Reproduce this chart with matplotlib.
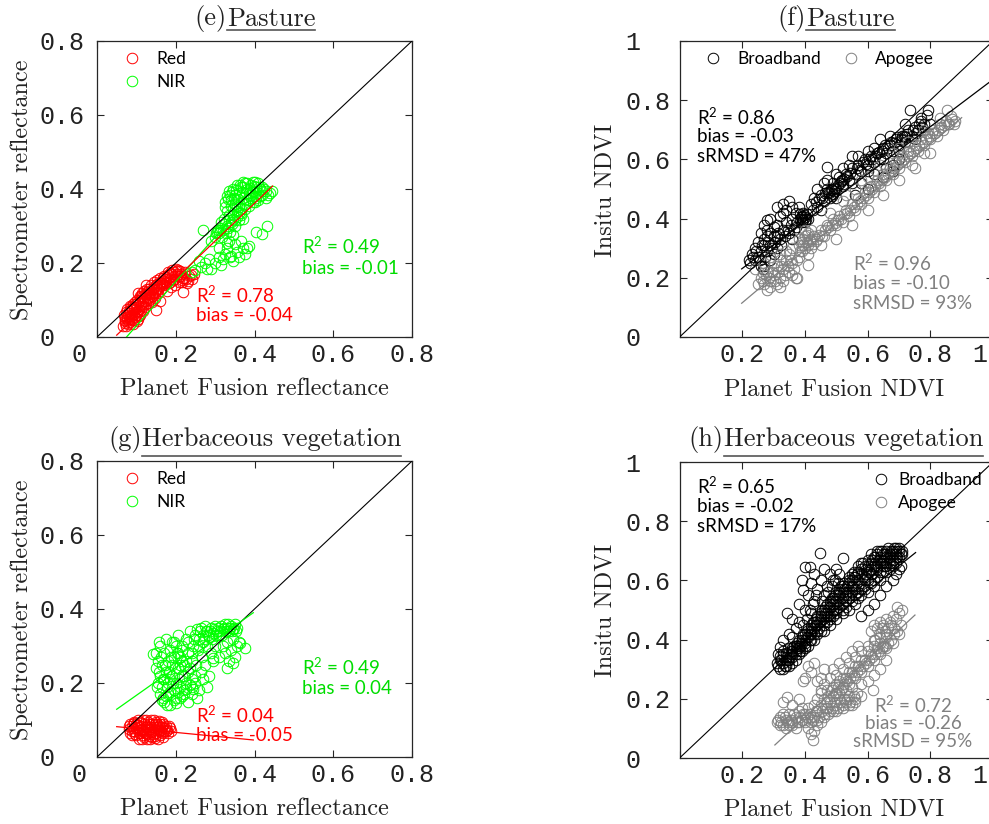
import matplotlib
matplotlib.use("Agg")
import matplotlib.pyplot as plt
from matplotlib.lines import Line2D

plt.rcParams["mathtext.fontset"] = "custom"
plt.rcParams["mathtext.rm"] = "Lato"
plt.rcParams["mathtext.it"] = "Lato:italic"
plt.rcParams["mathtext.bf"] = "Lato:bold"

# ---------------- data ----------------
# (e) Pasture: Planet Fusion vs spectrometer reflectance
pasture_red = [
    (0.066, 0.030), (0.070, 0.045), (0.072, 0.038), (0.075, 0.055), (0.078, 0.060),
    (0.080, 0.048), (0.082, 0.070), (0.085, 0.065), (0.088, 0.078), (0.090, 0.072),
    (0.068, 0.060), (0.073, 0.030), (0.077, 0.075), (0.081, 0.040), (0.084, 0.085),
    (0.087, 0.050), (0.091, 0.090), (0.094, 0.062), (0.097, 0.095), (0.100, 0.080),
    (0.092, 0.035), (0.095, 0.045), (0.099, 0.060), (0.102, 0.100), (0.105, 0.070),
    (0.108, 0.110), (0.111, 0.085), (0.114, 0.120), (0.117, 0.095), (0.120, 0.125),
    (0.103, 0.050), (0.107, 0.075), (0.110, 0.060), (0.113, 0.090), (0.116, 0.070),
    (0.119, 0.105), (0.122, 0.080), (0.125, 0.115), (0.128, 0.100), (0.131, 0.130),
    (0.124, 0.090), (0.128, 0.130), (0.132, 0.100), (0.136, 0.140), (0.140, 0.110),
    (0.144, 0.150), (0.148, 0.120), (0.152, 0.155), (0.156, 0.130), (0.160, 0.160),
    (0.135, 0.115), (0.139, 0.095), (0.143, 0.130), (0.147, 0.105), (0.151, 0.140),
    (0.155, 0.120), (0.159, 0.145), (0.163, 0.130), (0.167, 0.160), (0.171, 0.140),
    (0.165, 0.140), (0.170, 0.165), (0.175, 0.150), (0.180, 0.175), (0.185, 0.158),
    (0.190, 0.180), (0.195, 0.165), (0.200, 0.185), (0.205, 0.170), (0.210, 0.178),
    (0.178, 0.125), (0.183, 0.145), (0.188, 0.135), (0.193, 0.155), (0.198, 0.140),
    (0.203, 0.165), (0.208, 0.150), (0.213, 0.170), (0.218, 0.160), (0.223, 0.175),
    (0.215, 0.150), (0.222, 0.160), (0.228, 0.145), (0.234, 0.165), (0.240, 0.158),
    (0.246, 0.170), (0.104, 0.119), (0.150, 0.073), (0.218, 0.122), (0.125, 0.140),
    (0.160, 0.098),
    (0.070, 0.052), (0.074, 0.068), (0.079, 0.035), (0.083, 0.058), (0.086, 0.080),
    (0.089, 0.045), (0.093, 0.075), (0.096, 0.055), (0.099, 0.088), (0.101, 0.068),
    (0.104, 0.095), (0.106, 0.058), (0.109, 0.100), (0.112, 0.072), (0.115, 0.108),
    (0.118, 0.085), (0.121, 0.115), (0.123, 0.098), (0.126, 0.122), (0.129, 0.092),
    (0.133, 0.118), (0.137, 0.128), (0.141, 0.120), (0.145, 0.135), (0.149, 0.128),
    (0.153, 0.142), (0.157, 0.138), (0.161, 0.150), (0.164, 0.145), (0.168, 0.152),
    (0.172, 0.158), (0.176, 0.162), (0.181, 0.168), (0.186, 0.172), (0.191, 0.170),
    (0.196, 0.176), (0.201, 0.178), (0.206, 0.182), (0.212, 0.165), (0.217, 0.155),
    (0.225, 0.158), (0.232, 0.152), (0.238, 0.168), (0.186, 0.150), (0.195, 0.158),
    (0.174, 0.145), (0.132, 0.108), (0.142, 0.112), (0.112, 0.112), (0.094, 0.082),
    (0.077, 0.050), (0.072, 0.042), (0.090, 0.058), (0.101, 0.042),
]
pasture_nir = [
    (0.330, 0.380), (0.335, 0.395), (0.340, 0.370), (0.345, 0.400), (0.350, 0.385),
    (0.355, 0.410), (0.360, 0.390), (0.365, 0.405), (0.370, 0.375), (0.375, 0.415),
    (0.380, 0.400), (0.385, 0.390), (0.390, 0.410), (0.395, 0.395), (0.400, 0.420),
    (0.405, 0.405), (0.410, 0.390), (0.415, 0.400), (0.420, 0.385), (0.430, 0.395),
    (0.440, 0.390), (0.325, 0.350), (0.330, 0.340), (0.340, 0.355), (0.350, 0.360),
    (0.360, 0.350), (0.370, 0.360), (0.380, 0.370), (0.390, 0.375), (0.400, 0.380),
    (0.410, 0.370), (0.345, 0.330), (0.355, 0.340), (0.365, 0.335), (0.375, 0.345),
    (0.385, 0.355), (0.420, 0.405), (0.400, 0.365), (0.395, 0.420), (0.370, 0.420),
    (0.325, 0.365), (0.332, 0.372), (0.338, 0.385), (0.342, 0.392), (0.348, 0.375),
    (0.352, 0.398), (0.358, 0.372), (0.362, 0.412), (0.368, 0.392), (0.372, 0.405),
    (0.378, 0.388), (0.382, 0.415), (0.388, 0.402), (0.392, 0.385), (0.398, 0.408),
    (0.402, 0.392), (0.408, 0.415), (0.412, 0.405), (0.418, 0.395), (0.425, 0.400),
    (0.435, 0.385), (0.445, 0.395), (0.428, 0.375), (0.415, 0.380), (0.405, 0.375),
    (0.395, 0.365), (0.385, 0.370), (0.375, 0.360), (0.365, 0.345), (0.355, 0.355),
    (0.345, 0.345), (0.335, 0.330), (0.322, 0.320), (0.316, 0.310), (0.308, 0.290),
    (0.302, 0.280), (0.350, 0.315), (0.342, 0.305), (0.360, 0.335), (0.332, 0.295),
    (0.300, 0.270), (0.305, 0.285), (0.310, 0.280), (0.315, 0.295), (0.320, 0.290),
    (0.325, 0.305), (0.330, 0.300), (0.335, 0.315), (0.340, 0.310), (0.345, 0.320),
    (0.350, 0.300), (0.355, 0.325), (0.360, 0.315), (0.365, 0.330), (0.370, 0.320),
    (0.318, 0.270), (0.328, 0.280), (0.338, 0.285),
    (0.265, 0.190), (0.275, 0.200), (0.285, 0.210), (0.290, 0.185), (0.300, 0.200),
    (0.310, 0.215), (0.315, 0.195), (0.320, 0.210), (0.325, 0.225), (0.330, 0.240),
    (0.340, 0.220), (0.350, 0.250), (0.355, 0.230), (0.360, 0.215), (0.370, 0.240),
    (0.375, 0.225), (0.385, 0.245), (0.335, 0.260), (0.345, 0.275), (0.250, 0.180),
    (0.240, 0.175), (0.260, 0.205), (0.280, 0.185), (0.345, 0.205), (0.365, 0.260),
    (0.310, 0.240), (0.290, 0.260), (0.270, 0.290), (0.312, 0.290), (0.330, 0.253),
    (0.338, 0.217), (0.380, 0.240), (0.405, 0.283), (0.420, 0.278), (0.432, 0.300),
]

# (f) Pasture: Planet Fusion NDVI vs in-situ NDVI
pasture_broadband = [
    (0.220, 0.260), (0.240, 0.300), (0.250, 0.270), (0.260, 0.240), (0.270, 0.330),
    (0.270, 0.380), (0.280, 0.290), (0.280, 0.360), (0.290, 0.310), (0.290, 0.260),
    (0.300, 0.340), (0.300, 0.280), (0.310, 0.380), (0.310, 0.300), (0.320, 0.330),
    (0.320, 0.410), (0.330, 0.450), (0.330, 0.360), (0.340, 0.430), (0.340, 0.390),
    (0.350, 0.350), (0.350, 0.460), (0.360, 0.400), (0.360, 0.330), (0.370, 0.420),
    (0.370, 0.370), (0.380, 0.440), (0.230, 0.280), (0.250, 0.320), (0.260, 0.350),
    (0.265, 0.230), (0.278, 0.395),
    (0.225, 0.250), (0.235, 0.270), (0.245, 0.290), (0.255, 0.260), (0.262, 0.310),
    (0.272, 0.270), (0.283, 0.320), (0.295, 0.300), (0.305, 0.320), (0.315, 0.350),
    (0.325, 0.310), (0.335, 0.340), (0.345, 0.360), (0.355, 0.380), (0.365, 0.360),
    (0.375, 0.390), (0.280, 0.340), (0.300, 0.370), (0.290, 0.350), (0.310, 0.340),
    (0.260, 0.290), (0.270, 0.310), (0.360, 0.440), (0.330, 0.420), (0.310, 0.440),
    (0.290, 0.400), (0.240, 0.260), (0.270, 0.240),
    (0.385, 0.400), (0.390, 0.410), (0.395, 0.395), (0.400, 0.405), (0.395, 0.420),
    (0.405, 0.415), (0.390, 0.390), (0.400, 0.390), (0.385, 0.415), (0.410, 0.400),
    (0.388, 0.405), (0.402, 0.400), (0.392, 0.400), (0.398, 0.412),
    (0.478, 0.485), (0.485, 0.495), (0.490, 0.482), (0.482, 0.500), (0.492, 0.492),
    (0.487, 0.478), (0.512, 0.520), (0.518, 0.530), (0.522, 0.518), (0.515, 0.528),
    (0.420, 0.450), (0.430, 0.470), (0.440, 0.440), (0.450, 0.480), (0.460, 0.460),
    (0.470, 0.575), (0.470, 0.500), (0.480, 0.470), (0.490, 0.520), (0.500, 0.500),
    (0.510, 0.540), (0.520, 0.510), (0.530, 0.550), (0.540, 0.530), (0.550, 0.570),
    (0.560, 0.550), (0.570, 0.580), (0.580, 0.560), (0.590, 0.600), (0.600, 0.580),
    (0.610, 0.610), (0.620, 0.590), (0.630, 0.620), (0.640, 0.600), (0.650, 0.640),
    (0.660, 0.620), (0.670, 0.650), (0.680, 0.630), (0.690, 0.670), (0.700, 0.650),
    (0.710, 0.680), (0.720, 0.660), (0.730, 0.700), (0.740, 0.680), (0.750, 0.710),
    (0.760, 0.700), (0.770, 0.730), (0.780, 0.720), (0.790, 0.750), (0.800, 0.720),
    (0.735, 0.767), (0.793, 0.767), (0.550, 0.610), (0.580, 0.520), (0.620, 0.550),
    (0.660, 0.570), (0.680, 0.580), (0.700, 0.600), (0.600, 0.630), (0.640, 0.670),
    (0.705, 0.670), (0.715, 0.680), (0.720, 0.675), (0.710, 0.665), (0.725, 0.685),
    (0.560, 0.480), (0.600, 0.500), (0.650, 0.540), (0.680, 0.560),
    (0.425, 0.430), (0.435, 0.455), (0.445, 0.465), (0.455, 0.470), (0.465, 0.485),
    (0.475, 0.490), (0.495, 0.505), (0.505, 0.515), (0.525, 0.535), (0.535, 0.545),
    (0.545, 0.555), (0.565, 0.570), (0.575, 0.565), (0.585, 0.590), (0.595, 0.585),
    (0.605, 0.600), (0.615, 0.600), (0.625, 0.610), (0.635, 0.625), (0.645, 0.630),
    (0.655, 0.650), (0.665, 0.640), (0.675, 0.660), (0.685, 0.655), (0.695, 0.675),
    (0.745, 0.700), (0.755, 0.690), (0.765, 0.720), (0.775, 0.710), (0.500, 0.550),
    (0.540, 0.580), (0.440, 0.500), (0.460, 0.520),
    (0.450, 0.430), (0.500, 0.470), (0.550, 0.520), (0.600, 0.560), (0.650, 0.600),
    (0.700, 0.630), (0.750, 0.670), (0.470, 0.530), (0.520, 0.570), (0.570, 0.610),
    (0.620, 0.640), (0.670, 0.680), (0.720, 0.720), (0.770, 0.740),
]
pasture_apogee = [
    (0.260, 0.200), (0.270, 0.180), (0.280, 0.220), (0.290, 0.190), (0.300, 0.210),
    (0.310, 0.240), (0.320, 0.200), (0.330, 0.230), (0.340, 0.260), (0.350, 0.220),
    (0.360, 0.250), (0.370, 0.200), (0.380, 0.270), (0.270, 0.250), (0.290, 0.270),
    (0.310, 0.180), (0.330, 0.190), (0.350, 0.280), (0.280, 0.160), (0.320, 0.280),
    (0.267, 0.215), (0.240, 0.230), (0.250, 0.180),
    (0.265, 0.190), (0.275, 0.210), (0.285, 0.200), (0.295, 0.220), (0.305, 0.190),
    (0.315, 0.220), (0.325, 0.240), (0.335, 0.210), (0.345, 0.240), (0.355, 0.260),
    (0.365, 0.230), (0.375, 0.260), (0.385, 0.290), (0.300, 0.250), (0.320, 0.260),
    (0.340, 0.290), (0.360, 0.300), (0.380, 0.330), (0.360, 0.210), (0.320, 0.170),
    (0.290, 0.170),
    (0.390, 0.320), (0.400, 0.340), (0.410, 0.310), (0.400, 0.300), (0.410, 0.350),
    (0.420, 0.330), (0.390, 0.290), (0.420, 0.300), (0.400, 0.360), (0.430, 0.340),
    (0.410, 0.280), (0.380, 0.310), (0.395, 0.330), (0.405, 0.320), (0.395, 0.310),
    (0.405, 0.345), (0.415, 0.325), (0.425, 0.315), (0.435, 0.325), (0.445, 0.345),
    (0.420, 0.360), (0.450, 0.310),
    (0.374, 0.198), (0.410, 0.243), (0.852, 0.767),
    (0.440, 0.330), (0.450, 0.360), (0.460, 0.340), (0.470, 0.380), (0.480, 0.360),
    (0.490, 0.400), (0.500, 0.380), (0.510, 0.410), (0.520, 0.390), (0.530, 0.430),
    (0.540, 0.410), (0.550, 0.450), (0.560, 0.430), (0.570, 0.470), (0.580, 0.450),
    (0.590, 0.490), (0.600, 0.470), (0.610, 0.510), (0.620, 0.490), (0.630, 0.530),
    (0.640, 0.510), (0.650, 0.550), (0.660, 0.530), (0.670, 0.570), (0.680, 0.550),
    (0.690, 0.590), (0.700, 0.570), (0.710, 0.610), (0.720, 0.590), (0.730, 0.630),
    (0.740, 0.610), (0.750, 0.650), (0.760, 0.630), (0.770, 0.670), (0.780, 0.650),
    (0.790, 0.690), (0.800, 0.670), (0.810, 0.700), (0.820, 0.680), (0.830, 0.720),
    (0.840, 0.700), (0.850, 0.730), (0.860, 0.720), (0.870, 0.735), (0.880, 0.730),
    (0.875, 0.720), (0.865, 0.745), (0.480, 0.420), (0.520, 0.460), (0.560, 0.500),
    (0.600, 0.540), (0.640, 0.580), (0.700, 0.640), (0.740, 0.580), (0.780, 0.620),
    (0.455, 0.340), (0.465, 0.360), (0.475, 0.370), (0.485, 0.380), (0.495, 0.385),
    (0.505, 0.395), (0.515, 0.400), (0.525, 0.415), (0.535, 0.420), (0.545, 0.430),
    (0.555, 0.440), (0.565, 0.450), (0.575, 0.460), (0.585, 0.470), (0.595, 0.480),
    (0.605, 0.490), (0.615, 0.500), (0.625, 0.510), (0.635, 0.520), (0.645, 0.530),
    (0.655, 0.540), (0.665, 0.550), (0.675, 0.560), (0.685, 0.570), (0.695, 0.580),
    (0.705, 0.590), (0.715, 0.600), (0.725, 0.610), (0.735, 0.620), (0.745, 0.630),
    (0.755, 0.640), (0.765, 0.650), (0.775, 0.660), (0.785, 0.670), (0.795, 0.680),
    (0.805, 0.690), (0.815, 0.690), (0.825, 0.700), (0.835, 0.710), (0.845, 0.715),
    (0.855, 0.720),
    (0.500, 0.330), (0.550, 0.380), (0.600, 0.430), (0.650, 0.480), (0.700, 0.530),
    (0.750, 0.570), (0.800, 0.620), (0.530, 0.480), (0.580, 0.530), (0.630, 0.560),
    (0.680, 0.620), (0.730, 0.660), (0.780, 0.700), (0.830, 0.740),
]

# (g) Herbaceous vegetation: reflectance
herb_red = [
    (0.080, 0.075), (0.085, 0.065), (0.090, 0.085), (0.095, 0.070), (0.100, 0.090),
    (0.100, 0.060), (0.105, 0.080), (0.110, 0.095), (0.110, 0.065), (0.115, 0.075),
    (0.120, 0.090), (0.120, 0.055), (0.125, 0.080), (0.130, 0.095), (0.130, 0.065),
    (0.135, 0.075), (0.140, 0.090), (0.140, 0.055), (0.145, 0.080), (0.150, 0.095),
    (0.150, 0.065), (0.155, 0.075), (0.160, 0.090), (0.160, 0.060), (0.165, 0.080),
    (0.170, 0.070), (0.175, 0.085), (0.180, 0.065), (0.185, 0.078), (0.090, 0.060),
    (0.095, 0.095), (0.105, 0.100), (0.115, 0.050), (0.125, 0.100), (0.135, 0.050),
    (0.145, 0.100), (0.155, 0.050), (0.165, 0.095), (0.175, 0.070), (0.082, 0.085),
    (0.118, 0.070), (0.128, 0.085), (0.138, 0.068), (0.148, 0.088), (0.158, 0.070),
    (0.168, 0.065), (0.112, 0.085), (0.142, 0.062), (0.098, 0.078), (0.108, 0.072),
    (0.132, 0.058), (0.152, 0.082), (0.122, 0.066), (0.162, 0.074),
    (0.085, 0.090), (0.088, 0.070), (0.092, 0.078), (0.097, 0.062), (0.103, 0.086),
    (0.107, 0.066), (0.113, 0.092), (0.117, 0.060), (0.123, 0.075), (0.127, 0.062),
    (0.133, 0.088), (0.137, 0.080), (0.143, 0.070), (0.147, 0.058), (0.153, 0.090),
    (0.157, 0.085), (0.163, 0.068), (0.167, 0.088), (0.172, 0.078), (0.178, 0.072),
    (0.182, 0.085), (0.107, 0.050), (0.127, 0.048), (0.147, 0.052), (0.167, 0.055),
    (0.117, 0.100), (0.137, 0.100), (0.157, 0.098), (0.093, 0.092), (0.188, 0.070),
]
herb_nir = [
    (0.150, 0.280), (0.150, 0.240), (0.155, 0.200), (0.155, 0.260), (0.160, 0.170),
    (0.160, 0.220), (0.160, 0.300), (0.165, 0.190), (0.165, 0.250), (0.170, 0.150),
    (0.170, 0.210), (0.170, 0.280), (0.175, 0.230), (0.175, 0.320), (0.180, 0.170),
    (0.180, 0.260), (0.180, 0.200), (0.185, 0.290), (0.185, 0.140), (0.190, 0.220),
    (0.190, 0.250), (0.190, 0.310), (0.195, 0.180), (0.195, 0.270), (0.200, 0.200),
    (0.200, 0.160), (0.200, 0.300), (0.205, 0.240), (0.205, 0.330), (0.210, 0.270),
    (0.210, 0.190), (0.215, 0.220), (0.215, 0.300), (0.220, 0.250), (0.220, 0.170),
    (0.225, 0.320), (0.225, 0.200), (0.230, 0.280), (0.230, 0.230), (0.235, 0.340),
    (0.240, 0.260), (0.240, 0.190), (0.245, 0.300), (0.250, 0.330), (0.250, 0.220),
    (0.143, 0.278), (0.158, 0.310), (0.168, 0.160), (0.178, 0.140), (0.200, 0.145),
    (0.152, 0.190), (0.157, 0.230), (0.162, 0.270), (0.167, 0.210), (0.172, 0.250),
    (0.177, 0.190), (0.182, 0.230), (0.187, 0.270), (0.192, 0.200), (0.197, 0.240),
    (0.202, 0.280), (0.207, 0.210), (0.212, 0.250), (0.217, 0.290), (0.222, 0.220),
    (0.227, 0.260), (0.232, 0.310), (0.237, 0.240), (0.242, 0.280), (0.247, 0.320),
    (0.252, 0.250), (0.257, 0.290), (0.262, 0.340), (0.267, 0.270), (0.272, 0.320),
    (0.165, 0.155), (0.175, 0.165), (0.185, 0.175), (0.195, 0.155), (0.205, 0.175),
    (0.215, 0.165), (0.225, 0.185), (0.235, 0.195), (0.245, 0.185), (0.185, 0.210),
    (0.195, 0.310), (0.205, 0.280), (0.215, 0.260),
    (0.255, 0.345), (0.260, 0.320), (0.265, 0.350), (0.270, 0.330), (0.275, 0.355),
    (0.280, 0.340), (0.285, 0.325), (0.290, 0.350), (0.295, 0.335), (0.300, 0.355),
    (0.305, 0.340), (0.310, 0.330), (0.315, 0.355), (0.320, 0.345), (0.325, 0.360),
    (0.330, 0.350), (0.335, 0.340), (0.340, 0.355), (0.345, 0.345), (0.350, 0.360),
    (0.355, 0.350), (0.270, 0.310), (0.280, 0.300), (0.260, 0.300),
    (0.277, 0.340), (0.282, 0.330), (0.287, 0.340), (0.292, 0.320), (0.297, 0.345),
    (0.302, 0.330), (0.307, 0.350), (0.312, 0.340), (0.317, 0.330), (0.322, 0.350),
    (0.327, 0.340), (0.332, 0.360), (0.337, 0.350), (0.342, 0.340), (0.347, 0.350),
    (0.352, 0.340),
    (0.290, 0.280), (0.295, 0.260), (0.300, 0.300), (0.310, 0.270), (0.320, 0.300),
    (0.325, 0.280), (0.330, 0.310), (0.335, 0.260), (0.340, 0.290), (0.345, 0.320),
    (0.350, 0.270), (0.355, 0.300), (0.360, 0.310), (0.363, 0.307), (0.376, 0.294),
    (0.295, 0.267), (0.330, 0.240), (0.345, 0.255),
    (0.210, 0.160), (0.220, 0.180), (0.230, 0.150), (0.240, 0.170), (0.250, 0.200),
    (0.260, 0.180), (0.270, 0.210), (0.280, 0.190), (0.255, 0.160), (0.265, 0.230),
    (0.275, 0.250), (0.285, 0.220), (0.240, 0.210),
]

# (h) Herbaceous vegetation: NDVI
herb_broadband = [
    (0.310, 0.320), (0.315, 0.350), (0.320, 0.300), (0.325, 0.330), (0.330, 0.360),
    (0.335, 0.310), (0.340, 0.340), (0.345, 0.370), (0.350, 0.330), (0.355, 0.360),
    (0.360, 0.340), (0.365, 0.380), (0.370, 0.350), (0.375, 0.370), (0.380, 0.400),
    (0.385, 0.360), (0.390, 0.390), (0.395, 0.420), (0.400, 0.380), (0.405, 0.410),
    (0.410, 0.440), (0.415, 0.400), (0.420, 0.430), (0.425, 0.460), (0.430, 0.420),
    (0.435, 0.450), (0.440, 0.480), (0.445, 0.440), (0.450, 0.470), (0.455, 0.500),
    (0.460, 0.460), (0.465, 0.490), (0.470, 0.520), (0.475, 0.480), (0.480, 0.510),
    (0.485, 0.540), (0.490, 0.500), (0.495, 0.530), (0.500, 0.560), (0.505, 0.520),
    (0.510, 0.550), (0.515, 0.580), (0.520, 0.540), (0.525, 0.570), (0.530, 0.530),
    (0.535, 0.560), (0.540, 0.590), (0.545, 0.550), (0.550, 0.580), (0.555, 0.610),
    (0.560, 0.570), (0.565, 0.600), (0.570, 0.560), (0.575, 0.590), (0.580, 0.620),
    (0.585, 0.580), (0.590, 0.610), (0.595, 0.640), (0.600, 0.600), (0.605, 0.630),
    (0.610, 0.660), (0.615, 0.620), (0.620, 0.650), (0.625, 0.680), (0.630, 0.640),
    (0.635, 0.670), (0.640, 0.700), (0.645, 0.660), (0.650, 0.690), (0.655, 0.650),
    (0.660, 0.680), (0.665, 0.710), (0.670, 0.670), (0.675, 0.700), (0.680, 0.690),
    (0.685, 0.710), (0.690, 0.700), (0.695, 0.680), (0.700, 0.710), (0.705, 0.690),
    (0.710, 0.700), (0.620, 0.580), (0.600, 0.560), (0.580, 0.550), (0.640, 0.600),
    (0.660, 0.630), (0.680, 0.650), (0.560, 0.520), (0.540, 0.500), (0.520, 0.490),
    (0.500, 0.470), (0.480, 0.450),
    (0.315, 0.310), (0.320, 0.345), (0.330, 0.320), (0.340, 0.355), (0.345, 0.330),
    (0.355, 0.350), (0.360, 0.370), (0.370, 0.360), (0.375, 0.390), (0.385, 0.380),
    (0.390, 0.410), (0.400, 0.400), (0.405, 0.430), (0.415, 0.420), (0.420, 0.450),
    (0.430, 0.440), (0.435, 0.470), (0.445, 0.460), (0.450, 0.490), (0.460, 0.480),
    (0.465, 0.510), (0.475, 0.500), (0.480, 0.530), (0.490, 0.520), (0.495, 0.550),
    (0.505, 0.540), (0.510, 0.570), (0.520, 0.560), (0.525, 0.590), (0.535, 0.580),
    (0.540, 0.610), (0.550, 0.600), (0.555, 0.630), (0.565, 0.620), (0.570, 0.650),
    (0.580, 0.640), (0.585, 0.660), (0.595, 0.620), (0.600, 0.650), (0.610, 0.640),
    (0.615, 0.670), (0.625, 0.660), (0.630, 0.690), (0.640, 0.680), (0.645, 0.700),
    (0.655, 0.690), (0.660, 0.700), (0.670, 0.690), (0.680, 0.700), (0.690, 0.690),
    (0.700, 0.680), (0.710, 0.690), (0.550, 0.530), (0.570, 0.540), (0.590, 0.570),
    (0.610, 0.590), (0.630, 0.610), (0.650, 0.630), (0.670, 0.640), (0.690, 0.660),
    (0.705, 0.650), (0.500, 0.500), (0.520, 0.520), (0.460, 0.430), (0.440, 0.420),
    (0.420, 0.400), (0.400, 0.370), (0.380, 0.350), (0.360, 0.320), (0.340, 0.310),
    (0.480, 0.480), (0.530, 0.510), (0.395, 0.450), (0.405, 0.470), (0.415, 0.500),
    (0.425, 0.520), (0.435, 0.550), (0.455, 0.530), (0.475, 0.560), (0.485, 0.580),
    (0.495, 0.600), (0.505, 0.590),
    (0.320, 0.330), (0.330, 0.350), (0.350, 0.340), (0.360, 0.360), (0.370, 0.380),
    (0.380, 0.370), (0.390, 0.400), (0.400, 0.420), (0.410, 0.410), (0.420, 0.440),
    (0.430, 0.460), (0.440, 0.450), (0.450, 0.480), (0.460, 0.500), (0.470, 0.490),
    (0.480, 0.520), (0.490, 0.540), (0.500, 0.530), (0.510, 0.560), (0.520, 0.580),
    (0.530, 0.570), (0.540, 0.600), (0.550, 0.620), (0.560, 0.610), (0.570, 0.630),
    (0.580, 0.660), (0.590, 0.650), (0.600, 0.670), (0.610, 0.690), (0.620, 0.680),
    (0.630, 0.700), (0.640, 0.660), (0.650, 0.670), (0.660, 0.660), (0.670, 0.680),
    (0.680, 0.670), (0.690, 0.710), (0.700, 0.700), (0.620, 0.600), (0.640, 0.630),
    (0.660, 0.650), (0.680, 0.660), (0.580, 0.570), (0.560, 0.550), (0.540, 0.540),
    (0.520, 0.500), (0.500, 0.490), (0.480, 0.470), (0.460, 0.450), (0.440, 0.430),
    (0.420, 0.420), (0.400, 0.390), (0.380, 0.380), (0.360, 0.350), (0.340, 0.330),
    (0.330, 0.300), (0.350, 0.310), (0.370, 0.330), (0.390, 0.360), (0.410, 0.380),
    (0.430, 0.400), (0.450, 0.430), (0.470, 0.460), (0.490, 0.480), (0.510, 0.510),
    (0.530, 0.550), (0.550, 0.560), (0.570, 0.580), (0.590, 0.600), (0.610, 0.620),
    (0.630, 0.650), (0.650, 0.650), (0.670, 0.660), (0.690, 0.680),
    (0.448, 0.691), (0.522, 0.675), (0.400, 0.646), (0.416, 0.646), (0.395, 0.568),
    (0.342, 0.489), (0.320, 0.376), (0.370, 0.440), (0.360, 0.470), (0.350, 0.420),
    (0.380, 0.520), (0.390, 0.600), (0.410, 0.550), (0.420, 0.590), (0.430, 0.620),
    (0.440, 0.570), (0.450, 0.600), (0.460, 0.640), (0.470, 0.580), (0.480, 0.620),
    (0.490, 0.600), (0.500, 0.640), (0.510, 0.620), (0.330, 0.400), (0.360, 0.410),
    (0.400, 0.500), (0.430, 0.530), (0.460, 0.550), (0.380, 0.460), (0.420, 0.490),
    (0.600, 0.500), (0.620, 0.520), (0.640, 0.550), (0.580, 0.480), (0.660, 0.580),
    (0.680, 0.600), (0.700, 0.640), (0.690, 0.620),
]
herb_apogee = [
    (0.310, 0.120), (0.320, 0.140), (0.330, 0.110), (0.340, 0.130), (0.350, 0.150),
    (0.360, 0.120), (0.370, 0.140), (0.380, 0.160), (0.390, 0.130), (0.400, 0.150),
    (0.410, 0.170), (0.420, 0.120), (0.430, 0.140), (0.440, 0.160), (0.450, 0.180),
    (0.460, 0.150), (0.470, 0.170), (0.480, 0.190), (0.490, 0.160), (0.500, 0.180),
    (0.510, 0.200), (0.520, 0.170), (0.530, 0.190), (0.540, 0.210), (0.550, 0.180),
    (0.560, 0.200), (0.330, 0.150), (0.350, 0.110), (0.370, 0.100), (0.390, 0.170),
    (0.410, 0.100), (0.430, 0.090), (0.450, 0.120), (0.440, 0.110), (0.427, 0.061),
    (0.420, 0.080), (0.360, 0.180), (0.380, 0.200), (0.400, 0.120), (0.342, 0.207),
    (0.330, 0.190),
    (0.315, 0.130), (0.325, 0.120), (0.335, 0.140), (0.345, 0.120), (0.355, 0.130),
    (0.365, 0.150), (0.375, 0.120), (0.385, 0.140), (0.395, 0.150), (0.405, 0.140),
    (0.415, 0.150), (0.425, 0.130), (0.435, 0.160), (0.445, 0.140), (0.455, 0.160),
    (0.465, 0.170), (0.475, 0.150), (0.485, 0.170), (0.495, 0.190), (0.505, 0.170),
    (0.515, 0.190), (0.525, 0.200), (0.535, 0.200), (0.545, 0.190), (0.555, 0.210),
    (0.565, 0.220), (0.460, 0.200), (0.450, 0.230), (0.440, 0.200), (0.430, 0.180),
    (0.320, 0.110), (0.340, 0.100), (0.360, 0.110), (0.380, 0.120), (0.400, 0.130),
    (0.420, 0.140), (0.440, 0.130), (0.460, 0.140), (0.480, 0.160), (0.500, 0.160),
    (0.520, 0.180), (0.540, 0.180), (0.560, 0.190), (0.580, 0.210), (0.470, 0.190),
    (0.490, 0.210), (0.510, 0.220), (0.530, 0.230), (0.550, 0.240),
    (0.450, 0.220), (0.460, 0.250), (0.470, 0.230), (0.480, 0.270), (0.490, 0.240),
    (0.500, 0.280), (0.510, 0.260), (0.520, 0.300), (0.530, 0.270), (0.540, 0.320),
    (0.550, 0.290), (0.560, 0.340), (0.570, 0.310), (0.580, 0.360), (0.590, 0.330),
    (0.600, 0.380), (0.610, 0.350), (0.620, 0.400), (0.630, 0.370), (0.640, 0.410),
    (0.650, 0.380), (0.660, 0.420), (0.550, 0.360), (0.570, 0.380), (0.530, 0.340),
    (0.510, 0.320), (0.490, 0.300), (0.618, 0.230), (0.620, 0.280), (0.640, 0.300),
    (0.600, 0.260), (0.580, 0.250), (0.660, 0.330),
    (0.500, 0.220), (0.520, 0.240), (0.540, 0.250), (0.560, 0.270), (0.580, 0.290),
    (0.600, 0.310), (0.620, 0.330), (0.640, 0.350), (0.660, 0.370), (0.680, 0.390),
    (0.700, 0.420), (0.600, 0.360), (0.620, 0.380), (0.640, 0.390), (0.660, 0.410),
    (0.580, 0.330), (0.560, 0.310), (0.540, 0.290), (0.520, 0.270), (0.500, 0.250),
    (0.475, 0.210), (0.485, 0.230), (0.495, 0.220), (0.505, 0.240), (0.515, 0.230),
    (0.525, 0.250), (0.535, 0.260), (0.545, 0.270), (0.555, 0.280), (0.565, 0.290),
    (0.575, 0.300), (0.585, 0.310), (0.595, 0.320), (0.605, 0.330), (0.615, 0.340),
    (0.625, 0.350), (0.635, 0.360), (0.645, 0.370), (0.655, 0.380), (0.665, 0.390),
    (0.675, 0.400), (0.685, 0.420), (0.695, 0.430), (0.705, 0.450), (0.635, 0.420),
    (0.645, 0.440), (0.655, 0.430), (0.675, 0.450), (0.685, 0.440), (0.625, 0.400),
    (0.610, 0.430), (0.620, 0.450), (0.630, 0.440), (0.640, 0.460), (0.650, 0.450),
    (0.660, 0.470), (0.670, 0.460), (0.680, 0.480), (0.690, 0.470), (0.700, 0.490),
    (0.710, 0.500), (0.665, 0.440), (0.695, 0.510),
    (0.400, 0.270), (0.420, 0.290), (0.440, 0.260), (0.460, 0.300), (0.410, 0.310),
    (0.430, 0.320), (0.395, 0.260), (0.450, 0.270),
]

# regression line end points (x0, x1), (y0, y1)
fit_pasture_red = ([0.050, 0.446], [0.005, 0.408])
fit_pasture_nir = ([0.075, 0.330], [0.000, 0.306])
fit_pasture_broadband = ([0.198, 0.990], [0.230, 0.862])
fit_pasture_apogee = ([0.198, 0.900], [0.114, 0.741])
fit_herb_red = ([0.050, 0.397], [0.082, 0.046])
fit_herb_nir = ([0.050, 0.397], [0.129, 0.390])
fit_herb_broadband = ([0.310, 0.753], [0.320, 0.694])
fit_herb_apogee = ([0.304, 0.751], [0.044, 0.483])

# statistics printed on each panel
stats_pasture_red = ("0.78", "-0.04")
stats_pasture_nir = ("0.49", "-0.01")
stats_herb_red = ("0.04", "-0.05")
stats_herb_nir = ("0.49", "0.04")
stats_pasture_broadband = ("0.86", "-0.03", "47%")
stats_pasture_apogee = ("0.96", "-0.10", "93%")
stats_herb_broadband = ("0.65", "-0.02", "17%")
stats_herb_apogee = ("0.72", "-0.26", "95%")

refl_ticks = [0, 0.2, 0.4, 0.6, 0.8]
refl_labels = ["0", "0.2", "0.4", "0.6", "0.8"]
ndvi_ticks = [0, 0.2, 0.4, 0.6, 0.8, 1.0]
ndvi_labels = ["0", "0.2", "0.4", "0.6", "0.8", "1"]

# ---------------- style ----------------
W, H = 989, 824
DPI = 100
RED = "#ff0000"
GREEN = "#00ff00"
GREEN_TXT = "#00dd00"
GRAY = "#808080"
AXC = "#262626"
TICK_FONT = "Liberation Mono"
TICK_SIZE = 18
SERIF = "cmr10"
SANS = "Lato"
ANN_SIZE = 13.5

fig = plt.figure(figsize=(W / DPI, H / DPI), dpi=DPI)


def px_axes(left, top, right, bottom):
    return fig.add_axes([left / W, 1 - bottom / H, (right - left) / W, (bottom - top) / H])


ax_e = px_axes(97, 41, 412, 337)
ax_f = px_axes(679.6, 41, 993, 337)
ax_g = px_axes(97, 461, 412, 757)
ax_h = px_axes(679.6, 462, 993, 758)

MS = 7.6
MEW = 0.7


def scatter(ax, pts, color, label):
    xs = [p[0] for p in pts]
    ys = [p[1] for p in pts]
    ln, = ax.plot(xs, ys, "o", ls="none", mfc="none", mec=color, ms=MS, mew=MEW,
                  label=label, zorder=2)
    return ln


def frame(ax, lim, ticks, labels, ylabel_pad_px):
    ax.set_xlim(0, lim)
    ax.set_ylim(0, lim)
    ax.plot([0, lim], [0, lim], color="black", lw=0.8, zorder=4)
    ax.set_xticks(ticks)
    ax.set_yticks(ticks)
    # the corner labels of the x axis are drawn separately
    xl = [""] + labels[1:]
    if lim == 1.0:
        xl[-1] = ""
    ax.set_xticklabels(xl)
    ax.set_yticklabels(labels, ha="left")
    ax.tick_params(direction="in", length=5, width=0.8, top=True, right=True,
                   colors=AXC, labelcolor="#222222", labelsize=TICK_SIZE)
    ax.tick_params(axis="y", pad=ylabel_pad_px * 0.72)
    ax.tick_params(axis="x", pad=4)
    for lab in ax.get_xticklabels() + ax.get_yticklabels():
        lab.set_fontfamily(TICK_FONT)
    for sp in ax.spines.values():
        sp.set_color(AXC)
        sp.set_linewidth(0.9)


def corner_label(ax, text, xfrac, dx_px):
    ax.annotate(text, xy=(xfrac, 0), xycoords="axes fraction", xytext=(dx_px * 0.72, -4),
                textcoords="offset points", ha="center", va="top", fontsize=TICK_SIZE,
                fontfamily=TICK_FONT, color="#222222")


def fit_line(ax, fit, color):
    ax.plot(fit[0], fit[1], color=color, lw=0.9, zorder=5)


def sans_text(ax, x, y, s, color, ha="left"):
    ax.text(x, y, s, transform=ax.transAxes, color=color, ha=ha, va="center",
            fontsize=ANN_SIZE, fontfamily=SANS, zorder=6)


def r2(v):
    return r"R$^{\mathrm{2}}$ = " + v


LEG_FONT = {"family": SANS, "size": 12.5}

# ---- (e) ----
frame(ax_e, 0.8, refl_ticks, refl_labels, 58)
l_red = scatter(ax_e, pasture_red, RED, "Red")
l_nir = scatter(ax_e, pasture_nir, GREEN, "NIR")
fit_line(ax_e, fit_pasture_nir, GREEN)
fit_line(ax_e, fit_pasture_red, RED)
sans_text(ax_e, 0.65, 0.307, r2(stats_pasture_nir[0]), GREEN_TXT)
sans_text(ax_e, 0.65, 0.233, f"bias = {stats_pasture_nir[1]}", GREEN_TXT)
sans_text(ax_e, 0.314, 0.142, r2(stats_pasture_red[0]), RED)
sans_text(ax_e, 0.314, 0.074, f"bias = {stats_pasture_red[1]}", RED)
ax_e.legend(handles=[l_red, l_nir], loc="upper left", bbox_to_anchor=(0.084, 0.965),
            frameon=False, borderpad=0, borderaxespad=0, handlelength=1.0,
            handletextpad=0.9, labelspacing=0.4, prop=LEG_FONT)
corner_label(ax_e, "0", 0, -18)

# ---- (g) ----
frame(ax_g, 0.8, refl_ticks, refl_labels, 58)
l_red = scatter(ax_g, herb_red, RED, "Red")
l_nir = scatter(ax_g, herb_nir, GREEN, "NIR")
fit_line(ax_g, fit_herb_nir, GREEN)
fit_line(ax_g, fit_herb_red, RED)
sans_text(ax_g, 0.65, 0.304, r2(stats_herb_nir[0]), GREEN_TXT)
sans_text(ax_g, 0.65, 0.230, f"bias = {stats_herb_nir[1]}", GREEN_TXT)
sans_text(ax_g, 0.314, 0.142, r2(stats_herb_red[0]), RED)
sans_text(ax_g, 0.314, 0.074, f"bias = {stats_herb_red[1]}", RED)
ax_g.legend(handles=[l_red, l_nir], loc="upper left", bbox_to_anchor=(0.084, 0.965),
            frameon=False, borderpad=0, borderaxespad=0, handlelength=1.0,
            handletextpad=0.9, labelspacing=0.4, prop=LEG_FONT)
corner_label(ax_g, "0", 0, -18)

# ---- (f) ----
frame(ax_f, 1.0, ndvi_ticks, ndvi_labels, 54)
l_bb = scatter(ax_f, pasture_broadband, "black", "Broadband")
l_ap = scatter(ax_f, pasture_apogee, GRAY, "Apogee")
fit_line(ax_f, fit_pasture_broadband, "black")
fit_line(ax_f, fit_pasture_apogee, GRAY)
sans_text(ax_f, 0.0545, 0.744, r2(stats_pasture_broadband[0]), "black")
sans_text(ax_f, 0.0545, 0.677, f"bias = {stats_pasture_broadband[1]}", "black")
sans_text(ax_f, 0.0545, 0.610, f"sRMSD = {stats_pasture_broadband[2]}", "black")
sans_text(ax_f, 0.552, 0.249, r2(stats_pasture_apogee[0]), GRAY)
sans_text(ax_f, 0.552, 0.181, f"bias = {stats_pasture_apogee[1]}", GRAY)
sans_text(ax_f, 0.552, 0.114, f"sRMSD = {stats_pasture_apogee[2]}", GRAY)
ax_f.legend(handles=[l_bb, l_ap], loc="upper left", bbox_to_anchor=(0.08, 0.965),
            ncol=2, frameon=False, borderpad=0, borderaxespad=0, handlelength=1.0,
            handletextpad=0.9, columnspacing=1.2, prop=LEG_FONT)
corner_label(ax_f, "1", 1, -13)

# ---- (h) ----
frame(ax_h, 1.0, ndvi_ticks, ndvi_labels, 54)
l_bb = scatter(ax_h, herb_broadband, "black", "Broadband")
l_ap = scatter(ax_h, herb_apogee, GRAY, "Apogee")
fit_line(ax_h, fit_herb_broadband, "black")
fit_line(ax_h, fit_herb_apogee, GRAY)
sans_text(ax_h, 0.0545, 0.917, r2(stats_herb_broadband[0]), "black")
sans_text(ax_h, 0.0545, 0.849, f"bias = {stats_herb_broadband[1]}", "black")
sans_text(ax_h, 0.0545, 0.781, f"sRMSD = {stats_herb_broadband[2]}", "black")
sans_text(ax_h, 0.745, 0.179, r2(stats_herb_apogee[0]), GRAY, ha="center")
sans_text(ax_h, 0.745, 0.117, f"bias = {stats_herb_apogee[1]}", GRAY, ha="center")
sans_text(ax_h, 0.745, 0.055, f"sRMSD = {stats_herb_apogee[2]}", GRAY, ha="center")
ax_h.legend(handles=[l_bb, l_ap], loc="upper left", bbox_to_anchor=(0.615, 0.965),
            frameon=False, borderpad=0, borderaxespad=0, handlelength=1.0,
            handletextpad=0.5, labelspacing=0.4, prop=LEG_FONT)
corner_label(ax_h, "1", 1, -13)

# ---------------- axis labels ----------------
LBL_SIZE = 17.5


def fig_text(px, py, s, **kw):
    return fig.text(px / W, 1 - py / H, s, fontfamily=SERIF, fontsize=LBL_SIZE,
                    color="#222222", ha="center", va="center", **kw)


fig_text(254, 389, "Planet Fusion reflectance")
fig_text(254, 809, "Planet Fusion reflectance")
fig_text(834, 389, "Planet Fusion NDVI")
fig_text(834, 809, "Planet Fusion NDVI")
fig_text(22, 190, "Spectrometer reflectance", rotation=90)
fig_text(22, 610, "Spectrometer reflectance", rotation=90)
fig_text(605, 190, "Insitu NDVI", rotation=90)
fig_text(605, 610, "Insitu NDVI", rotation=90)

# ---------------- titles with underlined panel names ----------------
TITLE_SIZE = 19
renderer = fig.canvas.get_renderer()


def underlined_title(prefix, word, cx, cy, uy):
    t1 = fig.text(0, 1 - cy / H, prefix, fontfamily=SERIF, fontsize=TITLE_SIZE,
                  color="#222222", ha="right", va="center")
    t2 = fig.text(0, 1 - cy / H, word, fontfamily=SERIF, fontsize=TITLE_SIZE,
                  color="#222222", ha="left", va="center")
    w1 = t1.get_window_extent(renderer).width
    w2 = t2.get_window_extent(renderer).width
    split = cx - (w1 + w2) / 2 + w1
    t1.set_x(split / W)
    t2.set_x(split / W)
    fig.add_artist(Line2D([split / W, (split + w2) / W], [1 - uy / H, 1 - uy / H],
                          transform=fig.transFigure, color="#555555", lw=1.2))


underlined_title("(e)", "Pasture", 255, 19, 30)
underlined_title("(f)", "Pasture", 836, 19, 30)
underlined_title("(g)", "Herbaceous vegetation", 254.5, 439, 456)
underlined_title("(h)", "Herbaceous vegetation", 836, 439, 456)

fig.savefig("out.png", dpi=DPI)
